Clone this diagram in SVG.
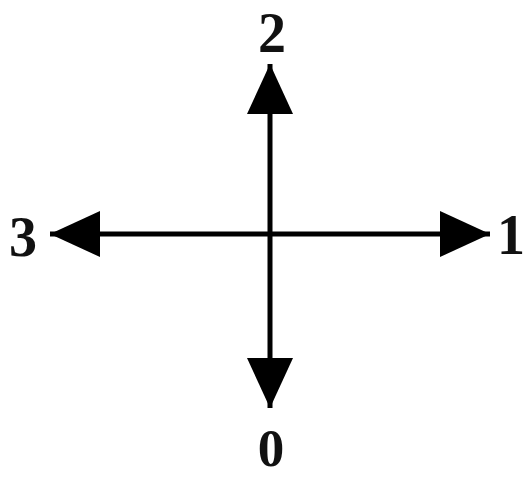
<svg xmlns="http://www.w3.org/2000/svg" width="525" height="478" viewBox="0 0 525 478">
<style>
.ax{stroke:#000;stroke-width:5;fill:none}
.lb{font-family:"Liberation Serif",serif;font-size:56px;font-weight:bold;fill:#111;text-anchor:middle}
</style>
<defs>
<marker id="ah" markerUnits="userSpaceOnUse" markerWidth="52" markerHeight="46" refX="50" refY="23" orient="auto" viewBox="0 0 52 46">
<path d="M0,0 L50,23 L0,46 Z" fill="#000"/>
</marker>
</defs>
<rect width="525" height="478" fill="#fff"/>
<g id="connectors">
<line class="ax" x1="270" y1="234" x2="270" y2="64" marker-end="url(#ah)"/>
<line class="ax" x1="270" y1="234" x2="270" y2="408" marker-end="url(#ah)"/>
<line class="ax" x1="270" y1="234" x2="50" y2="234" marker-end="url(#ah)"/>
<line class="ax" x1="270" y1="234" x2="490" y2="234" marker-end="url(#ah)"/>
</g>
<g id="label-2"><text class="lb" x="272" y="52">2</text></g>
<g id="label-3"><text class="lb" x="23" y="256">3</text></g>
<g id="label-1"><text class="lb" x="511" y="254">1</text></g>
<g id="label-0"><text class="lb" x="271" y="466" style="font-size:53px">0</text></g>
</svg>
